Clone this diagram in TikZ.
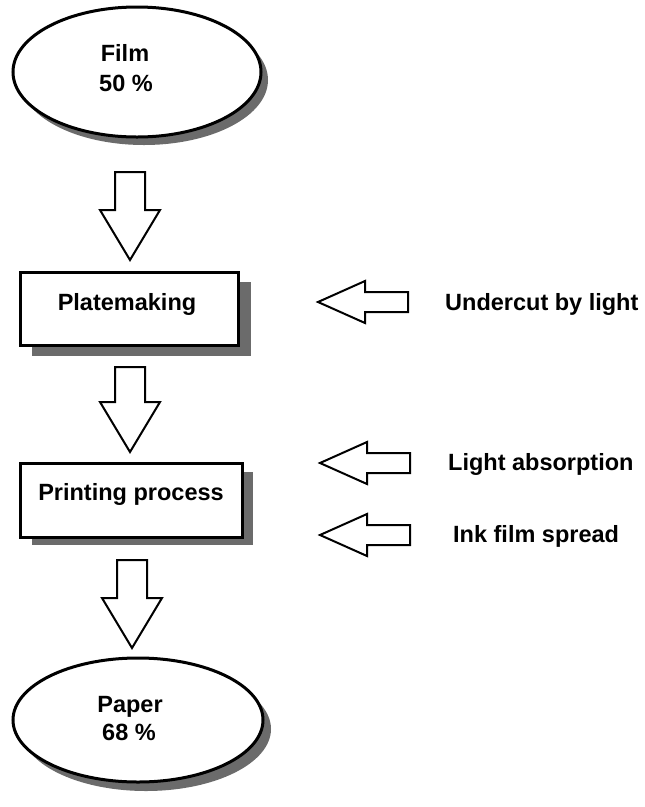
\documentclass[tikz,border=0pt]{standalone}
\usepackage{fontspec}
\setmainfont{Liberation Sans}
\usetikzlibrary{shapes.geometric}
\tikzset{
  shadowfill/.style={fill=black!58, draw=none},
  outl/.style={draw=black, line width=3pt, fill=white},
  blockarr/.style={draw=black, line width=2pt, fill=white, line join=miter},
  lbl/.style={font=\fontsize{23.5}{28}\selectfont\bfseries, inner sep=0pt, anchor=base},
  sidelbl/.style={font=\fontsize{23.5}{28}\selectfont\bfseries, inner sep=0pt, anchor=base west},
}
\newcommand{\downarrowshape}[4]{% x center, y top, y head start, y tip
  \draw[blockarr] (#1-15,#2) -- (#1+15,#2) -- (#1+15,#3) -- (#1+30,#3) -- (#1,#4)
    -- (#1-30,#3) -- (#1-15,#3) -- cycle;}
\newcommand{\leftarrowshape}[2]{% tip x, y
  \draw[blockarr] (#1,#2) -- (#1+47,#2-21) -- (#1+47,#2-10) -- (#1+90,#2-10)
    -- (#1+90,#2+10) -- (#1+47,#2+10) -- (#1+47,#2+21) -- cycle;}
\begin{document}
\begin{tikzpicture}[x=1pt,y=-1pt]
\useasboundingbox (0,0) rectangle (645,807);
\fill[white] (0,0) rectangle (645,807);
% Film
\fill[shadowfill] (144,80) ellipse [x radius=124, y radius=65];
\node[ellipse, outl, minimum width=248, minimum height=130, inner sep=0pt] (film) at (137,72) {};
\node[lbl] (filmA) at (125,61) {Film};
\node[lbl] (filmB) at (126,91) {50 \%};
% arrow 1
\downarrowshape{130}{172}{210}{260}
% Platemaking
\fill[shadowfill] (32,282) rectangle (251,356);
\node[rectangle, outl, minimum width=218, minimum height=73, inner sep=0pt] (plate) at (129,308.5) {};
\node[lbl] (plateT) at (127,310) {Platemaking};
% arrow 2
\downarrowshape{130}{367}{402}{452}
% Printing
\fill[shadowfill] (32,472) rectangle (253,545);
\node[rectangle, outl, minimum width=222, minimum height=74, inner sep=0pt] (print) at (131,500) {};
\node[lbl] (printT) at (131,500) {Printing process};
% arrow 3
\downarrowshape{132}{560}{598}{648}
% Paper
\fill[shadowfill] (146,729) ellipse [x radius=125, y radius=62];
\node[ellipse, outl, minimum width=250, minimum height=124, inner sep=0pt] (paper) at (138,720) {};
\node[lbl] (paperA) at (130,712) {Paper};
\node[lbl] (paperB) at (129,740) {68 \%};
% side arrows and labels
\leftarrowshape{318}{302}
\node[sidelbl] (undercut) at (445,310) {Undercut by light};
\leftarrowshape{320}{463}
\node[sidelbl] (absorb) at (448,470) {Light absorption};
\leftarrowshape{320}{535}
\node[sidelbl] (spread) at (453,542) {Ink film spread};
\end{tikzpicture}
\end{document}
